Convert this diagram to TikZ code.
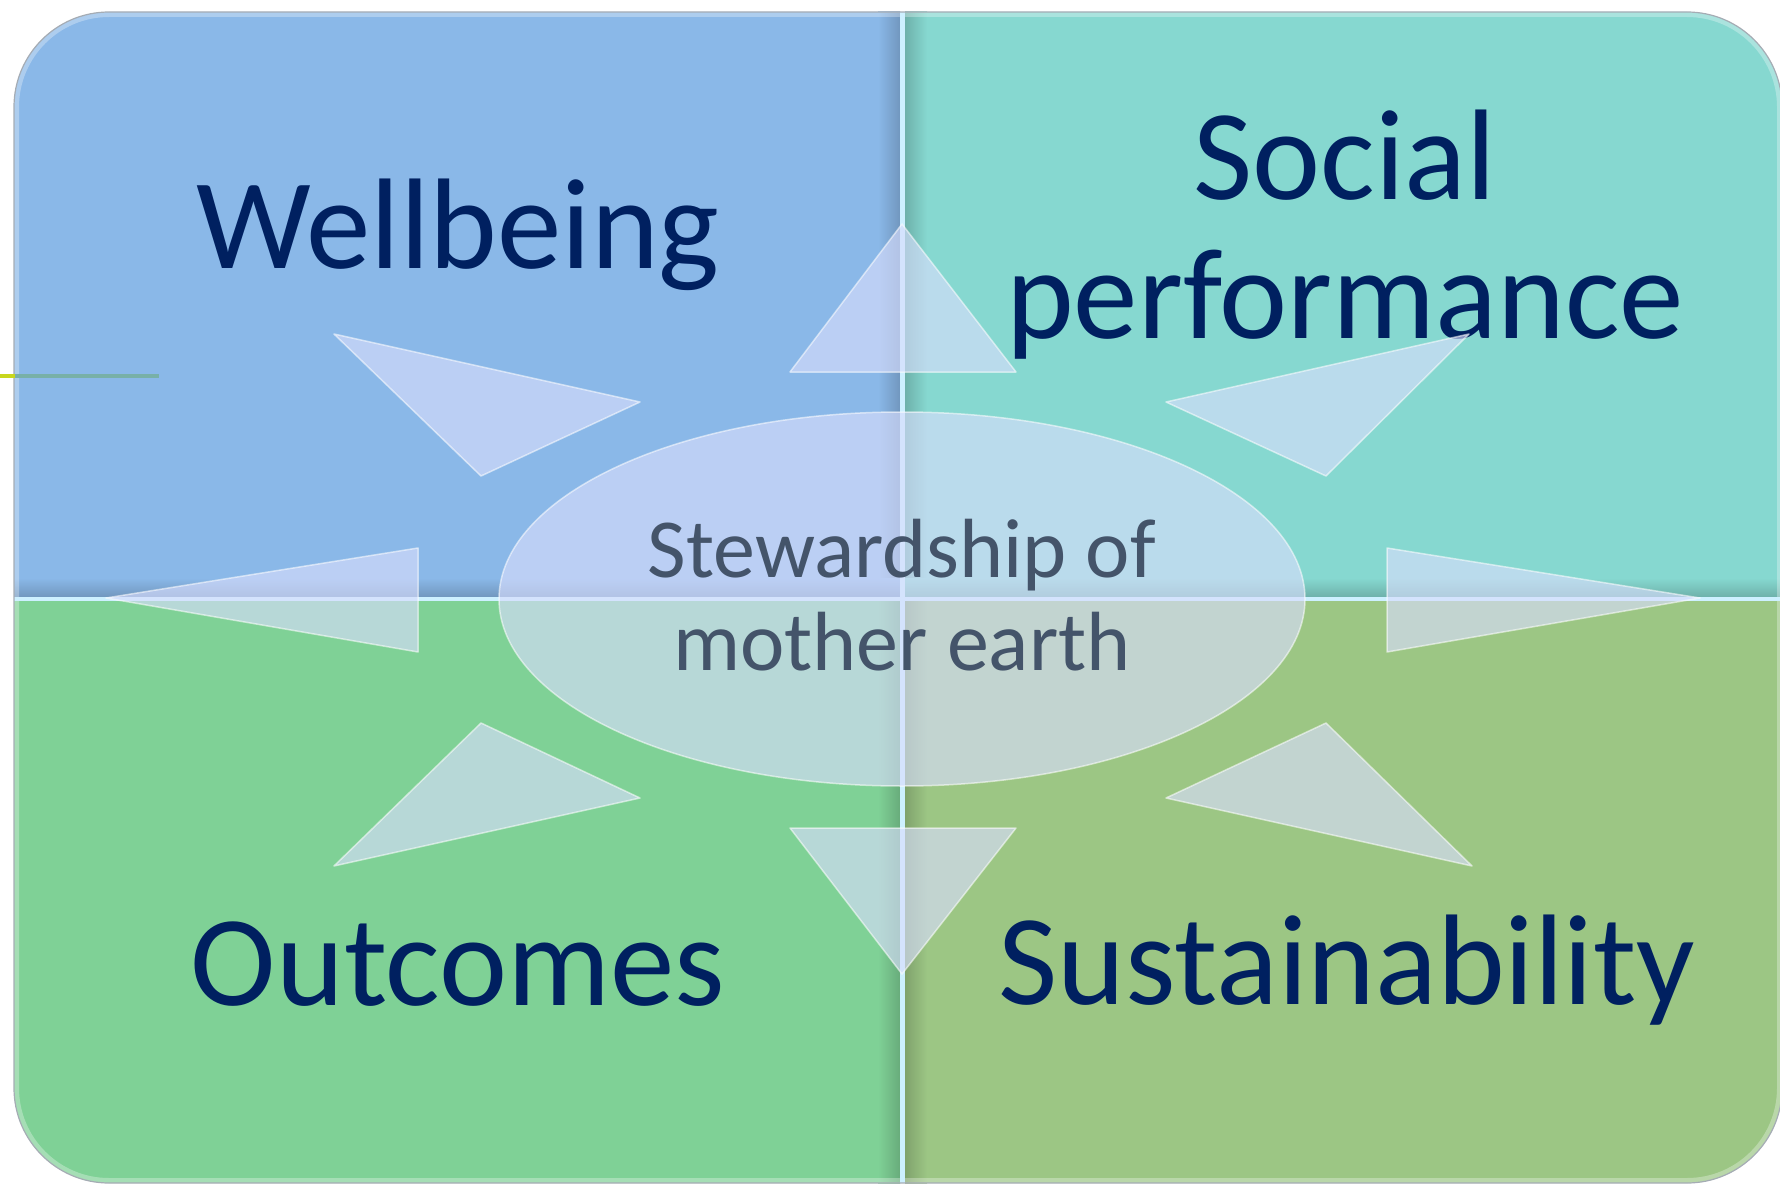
\documentclass[tikz,border=0pt]{standalone}
\usepackage{fontspec}
\setmainfont{Carlito}
\usetikzlibrary{shapes.geometric}
\definecolor{qtl}{RGB}{138,184,232}
\definecolor{qtr}{RGB}{134,216,208}
\definecolor{qbl}{RGB}{127,209,150}
\definecolor{qbr}{RGB}{156,198,132}
\definecolor{navy}{RGB}{0,32,96}
\definecolor{slate}{RGB}{68,84,106}
\definecolor{glass}{RGB}{216,221,252}
\definecolor{rimgray}{RGB}{165,172,180}
\definecolor{gapline}{RGB}{205,240,255}
\definecolor{yline}{RGB}{200,215,30}
\definecolor{gline}{RGB}{120,176,168}
\begin{document}
\begin{tikzpicture}[x=1pt,y=-1pt,
  bigtext/.style={font=\fontsize{129}{139}\selectfont, text=navy, inner sep=0pt, anchor=base, align=center},
  midtext/.style={font=\fontsize{84}{93}\selectfont, text=slate, inner sep=0pt, anchor=base, align=center},
  glassfill/.style={fill=glass, fill opacity=0.64, draw=white, draw opacity=0.55, line width=1.5pt, line join=round},
  outline/.style={rounded corners=95pt},
  rimlight/.style={white, opacity=0.3, line width=10pt, rounded corners=95pt},
]
\useasboundingbox (0,0) rectangle (1780,1185);
% quadrants
\begin{scope}
  \clip (0,0) rectangle (900,597);
  \fill[qtl, outline] (14,12) rectangle (1782,1183);
  \shade[left color=qtl, right color=qtl!82!black] (878,12) rectangle (900,597);
  \shade[top color=qtl, bottom color=qtl!82!black] (14,578) rectangle (900,597);
  \draw[rimlight] (14,12) rectangle (1782,1183);
\end{scope}
\begin{scope}
  \clip (905,0) rectangle (1790,597);
  \fill[qtr, outline] (14,12) rectangle (1782,1183);
  \shade[left color=qtr!82!black, right color=qtr] (905,12) rectangle (927,597);
  \shade[top color=qtr, bottom color=qtr!82!black] (905,578) rectangle (1782,597);
  \draw[rimlight] (14,12) rectangle (1782,1183);
\end{scope}
\begin{scope}
  \clip (0,601) rectangle (900,1190);
  \fill[qbl, outline] (14,12) rectangle (1782,1183);
  \shade[left color=qbl, right color=qbl!82!black] (878,601) rectangle (900,1183);
  \draw[rimlight] (14,12) rectangle (1782,1183);
\end{scope}
\begin{scope}
  \clip (905,601) rectangle (1790,1190);
  \fill[qbr, outline] (14,12) rectangle (1782,1183);
  \shade[left color=qbr!82!black, right color=qbr] (905,601) rectangle (927,1183);
  \draw[rimlight] (14,12) rectangle (1782,1183);
\end{scope}
\fill[gapline] (900,12) rectangle (905,1183);
\fill[gapline] (14,597) rectangle (1782,601);
\draw[rimgray, line width=1.2pt, outline] (14,12) rectangle (1782,1183);
% stray line at left
\draw[yline, line width=4pt] (0,375.5) -- (15,375.5);
\draw[gline, line width=4pt] (15,375.5) -- (159,375.5);
% labels
\node[bigtext] (wellbeing) at (458,269) {Wellbeing};
\node[bigtext] (social) at (1345,338) {Social\\performance};
\node[bigtext] (outcomes) at (458,1005) {Outcomes};
\node[bigtext] (sustain) at (1347,1004) {Sustainability};
% triangles
\filldraw[glassfill] (902,224) -- (790,372) -- (1016,372) -- cycle;
\filldraw[glassfill] (902,974) -- (790,828) -- (1016,828) -- cycle;
\filldraw[glassfill] (106,598) -- (418,548) -- (418,652) -- cycle;
\filldraw[glassfill] (1700,598) -- (1387,548) -- (1387,652) -- cycle;
\filldraw[glassfill] (334,334) -- (640,402) -- (481,476) -- cycle;
\filldraw[glassfill] (1469,334) -- (1166,402) -- (1326,476) -- cycle;
\filldraw[glassfill] (334,866) -- (640,798) -- (481,723) -- cycle;
\filldraw[glassfill] (1472,866) -- (1166,798) -- (1326,723) -- cycle;
% centre ellipse
\node[ellipse, glassfill, minimum width=806pt, minimum height=374pt, inner sep=0pt] (core) at (902,599) {};
\node[midtext] (stew) at (902,670) {Stewardship of\\mother earth};
\end{tikzpicture}
\end{document}
